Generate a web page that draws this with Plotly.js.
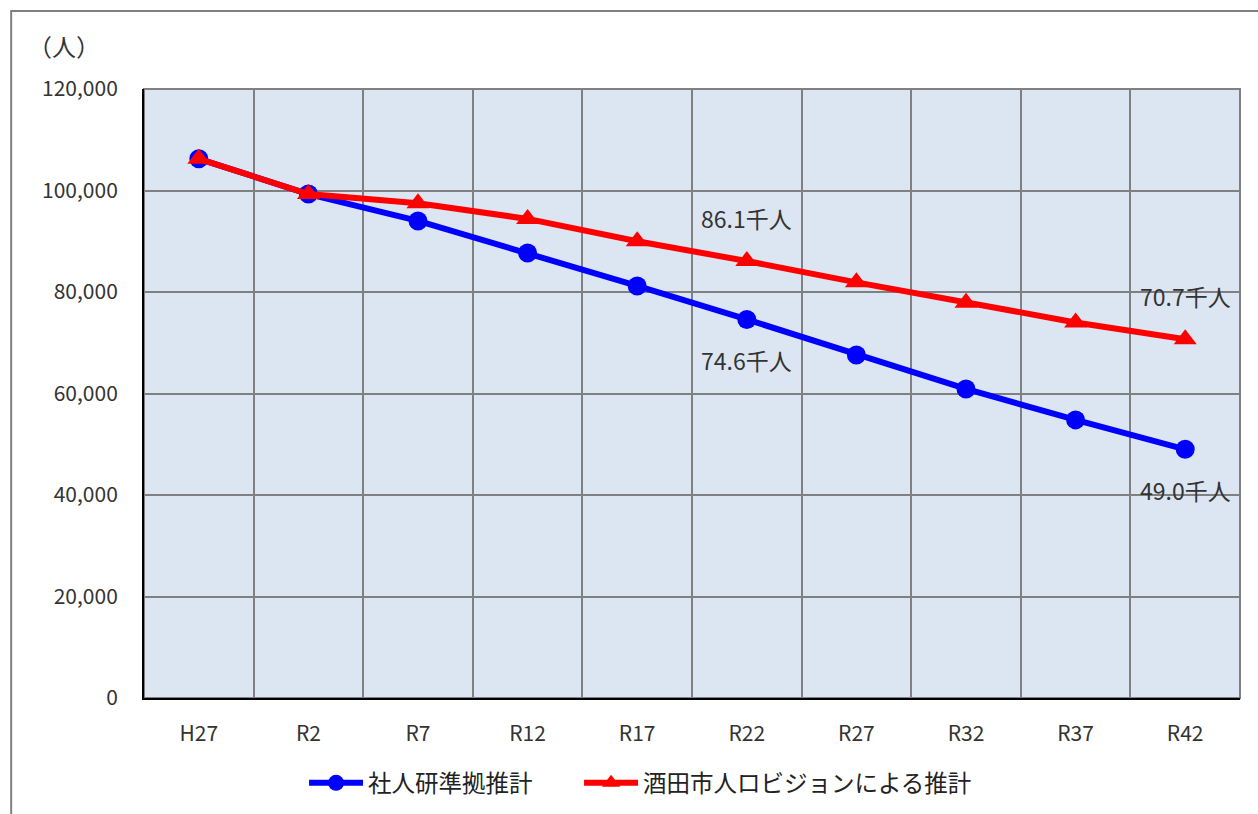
<!DOCTYPE html>
<html>
<head>
<meta charset="utf-8">
<script src="https://cdn.plot.ly/plotly-3.0.1.min.js"></script>
<style>html,body{margin:0;padding:0;background:#fff;}#chart{width:1258px;height:814px;}</style>
</head>
<body>
<div id="chart"></div>
<script>
const categories = ["H27","R2","R7","R12","R17","R22","R27","R32","R37","R42"];
const seriesBlueName = "社人研準拠推計";
const seriesRedName = "酒田市人ロビジョンによる推計";
const blueValues = [106244, 99300, 94000, 87700, 81200, 74600, 67600, 60900, 54800, 49000];
const redValues  = [106244, 99300, 97500, 94400, 90000, 86100, 81900, 77900, 74000, 70700];
const yTickValues = [0, 20000, 40000, 60000, 80000, 100000, 120000];
const unitLabel = "（人）";
const labelSuffix = "千人";
// category indices that carry a data label
const labelBlue = [5, 9];
const labelRed = [5, 9];

const xIdx = categories.map((c, i) => i);
const font = "Noto Sans CJK JP, Noto Sans, sans-serif";

const traces = [
  {
    x: xIdx, y: blueValues, name: seriesBlueName, type: "scatter", mode: "lines+markers",
    line: {color: "#0000FF", width: 6},
    marker: {symbol: "circle", size: 19, color: "#0000FF"},
    legend: "legend"
  },
  {
    x: xIdx, y: redValues, name: seriesRedName, type: "scatter", mode: "lines+markers",
    line: {color: "#FF0000", width: 6},
    marker: {symbol: "triangle-up", size: 20, color: "#FF0000"},
    legend: "legend2"
  }
];

const annotations = [];
labelBlue.forEach(i => annotations.push({
  x: i, y: blueValues[i], xref: "x", yref: "y", text: (blueValues[i]/1000).toFixed(1) + labelSuffix,
  showarrow: false, yshift: -41, font: {family: font, size: 23, color: "#333"}
}));
labelRed.forEach(i => annotations.push({
  x: i, y: redValues[i], xref: "x", yref: "y", text: (redValues[i]/1000).toFixed(1) + labelSuffix,
  showarrow: false, yshift: 43, font: {family: font, size: 23, color: "#333"}
}));
annotations.push({
  xref: "paper", yref: "paper", x: -0.108, y: 1.072, xanchor: "left", yanchor: "middle",
  text: unitLabel, showarrow: false, font: {family: font, size: 24, color: "#333"}
});

const legendBase = {orientation: "h", xref: "container", yref: "container", y: 0.038,
  yanchor: "middle", xanchor: "left", font: {family: font, size: 23.5, color: "#222"},
  itemwidth: 54, bgcolor: "rgba(0,0,0,0)"};

const layout = {
  width: 1258, height: 814,
  margin: {l: 144, r: 18, t: 89, b: 116, autoexpand: false},
  paper_bgcolor: "#FFFFFF",
  plot_bgcolor: "#DCE6F2",
  font: {family: font, size: 21, color: "#333"},
  showlegend: true,
  legend: Object.assign({}, legendBase, {x: 0.2417}),
  legend2: Object.assign({}, legendBase, {x: 0.4603}),
  xaxis: {
    range: [-0.5, categories.length - 0.5],
    tickmode: "array", tickvals: xIdx, ticktext: categories,
    showgrid: false, zeroline: false, automargin: false,
    showline: true, linecolor: "#000", linewidth: 2,
    ticks: "", ticklabelstandoff: 16,
    tickfont: {family: font, size: 21, color: "#333"},
    minor: {tick0: 0.5, dtick: 1, showgrid: true, gridcolor: "#808080", gridwidth: 2, ticks: ""}
  },
  yaxis: {
    range: [0, 120000], tickmode: "array", tickvals: yTickValues,
    tickformat: ",d", automargin: false,
    showgrid: true, gridcolor: "#808080", gridwidth: 2, zeroline: false,
    showline: true, linecolor: "#000", linewidth: 2,
    ticks: "", ticklabelstandoff: 20,
    tickfont: {family: font, size: 21, color: "#333"}
  },
  shapes: [
    {type: "rect", xref: "paper", yref: "paper", x0: 0, x1: 1, y0: 0, y1: 1,
     line: {color: "#808080", width: 2}, fillcolor: "rgba(0,0,0,0)", layer: "below"},
    {type: "rect", xref: "paper", yref: "paper", x0: -0.1212, x1: 1.05, y0: -0.3, y1: 1.1282,
     line: {color: "#808080", width: 2}, fillcolor: "rgba(0,0,0,0)", layer: "above"}
  ],
  annotations: annotations
};

Plotly.newPlot("chart", traces, layout, {displayModeBar: false, responsive: false});
</script>
</body>
</html>
